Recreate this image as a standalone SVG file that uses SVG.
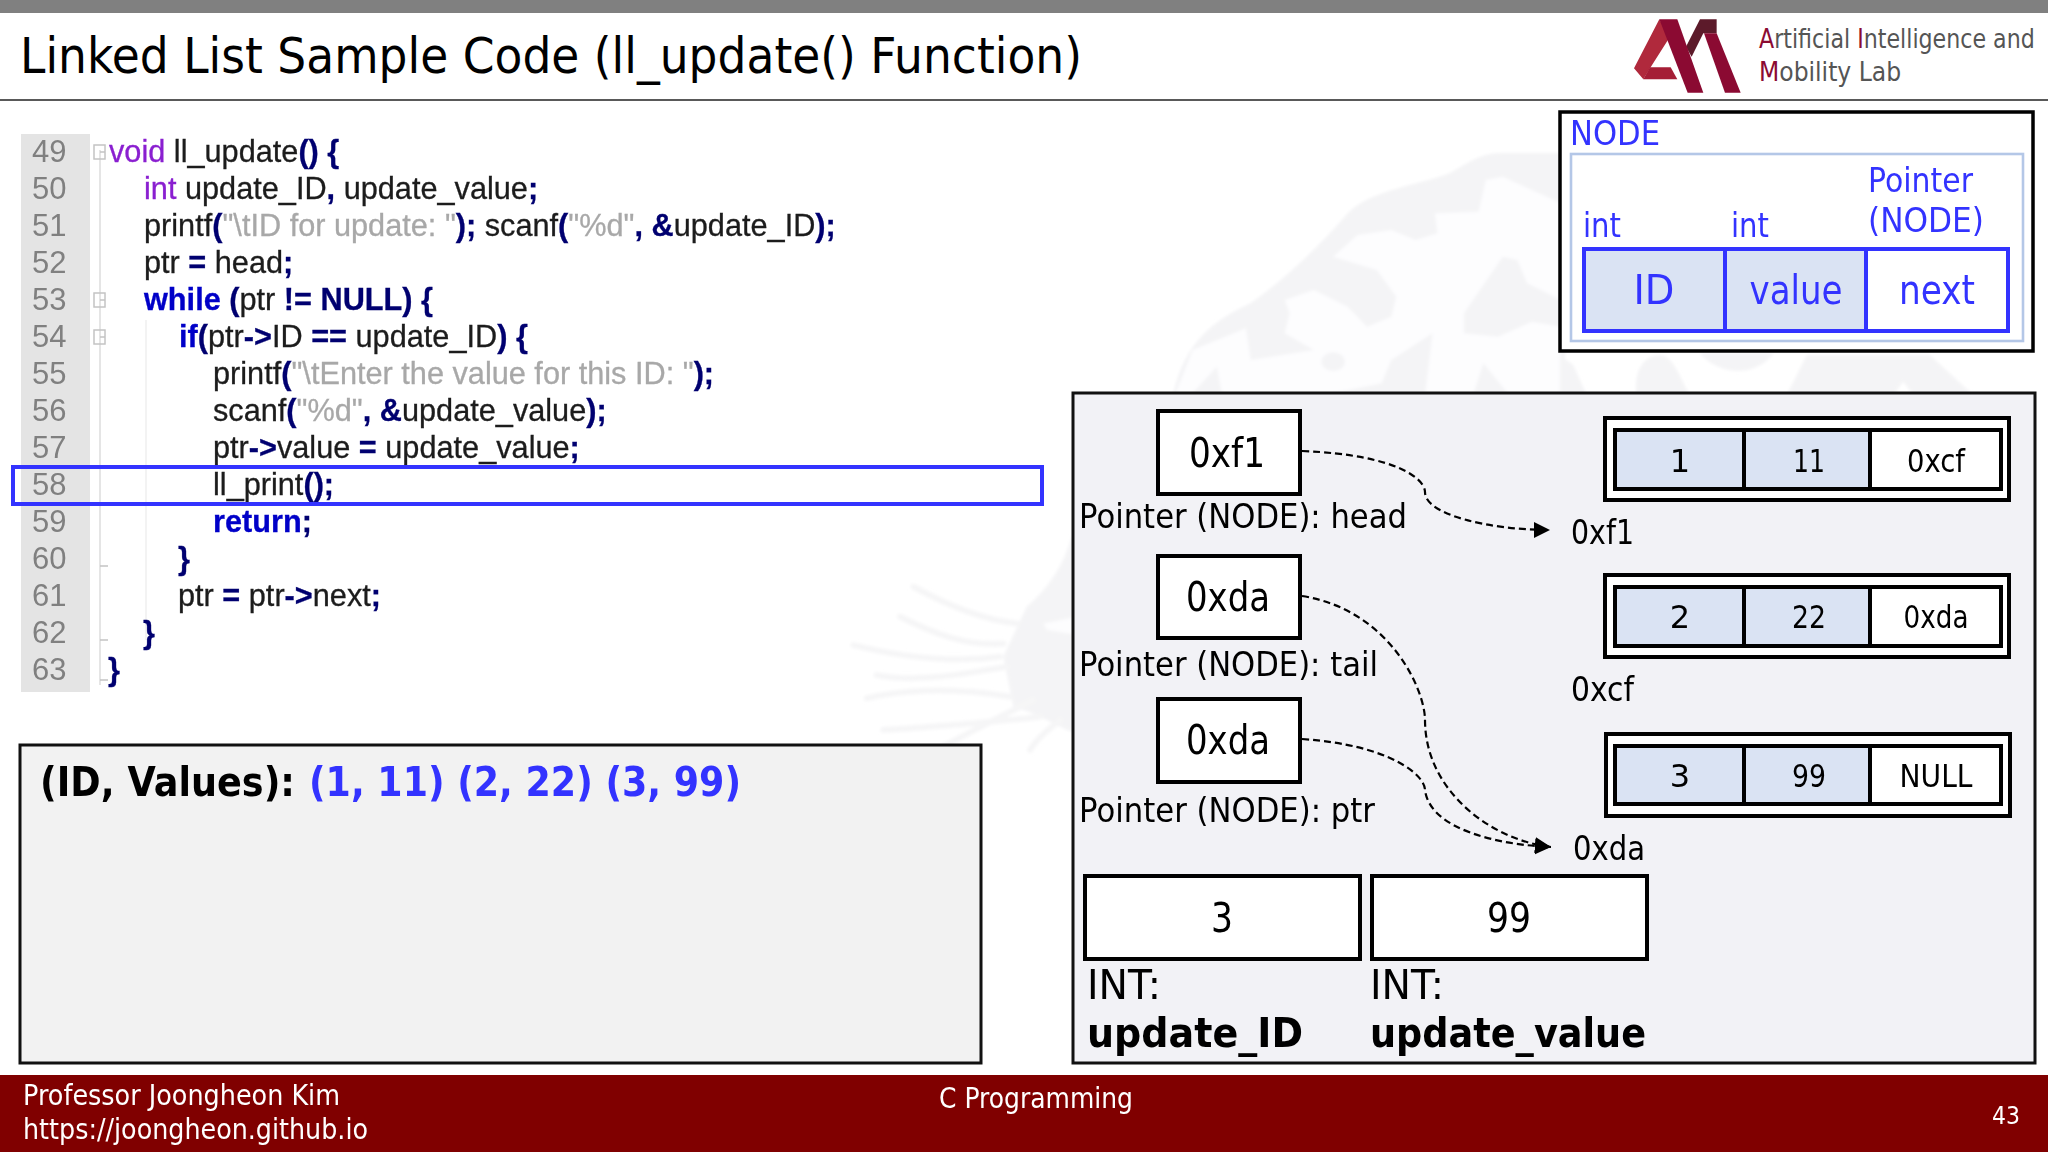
<svg xmlns="http://www.w3.org/2000/svg" width="2048" height="1152" viewBox="0 0 2048 1152">
<style>
text{font-family:"DejaVu Sans","Noto Sans",sans-serif;fill:#000}
.c{font-family:"Liberation Sans",Arial,sans-serif;font-size:30.7px;fill:#1c1c1c;stroke:#1c1c1c;stroke-width:.3}
.n{font-family:"Liberation Sans",Arial,sans-serif;font-size:31px;fill:#808080}
.k{fill:#0000c8;stroke:#0000c8;font-weight:bold}.p{fill:#8a1fd0;stroke:#8a1fd0}.s{fill:#a8a8a8;stroke:#a8a8a8}.o{fill:#000070;stroke:#000070;font-weight:bold}
.b{fill:#3333ff}.w{fill:#fff}.m{text-anchor:middle}
.box{fill:#fff;stroke:#000;stroke-width:4}
.panel{fill:#f2f2f6;stroke:#111;stroke-width:3}
.cell{fill:#dae3f3;stroke:#000;stroke-width:4}
.cw{fill:#fff;stroke:#000;stroke-width:4}
.bc{stroke:#3333ff;stroke-width:4}
.lab{font-size:34px}.val{font-size:32px}.big{font-size:40px}.addr{font-size:34px}
.dash{fill:none;stroke:#000;stroke-width:2.2;stroke-dasharray:7 4;marker-end:url(#ah)}
.wf{fill:#f4f4f6}.wh{fill:#fdfdfe}
.ws{fill:none;stroke:#f6f6f7;stroke-width:18;stroke-linecap:round}
.fold{fill:none;stroke:#c4c4c4;stroke-width:1.5}
.lt{font-size:27px;fill:#555}.lr{fill:#8b0a32}
</style>
<defs>
<marker id="ah" markerUnits="userSpaceOnUse" markerWidth="18" markerHeight="18" refX="16" refY="8" orient="auto"><path d="M0 0L16 8L0 16z" fill="#000"/></marker>
<filter id="soft" x="-5%" y="-5%" width="110%" height="110%"><feGaussianBlur stdDeviation="1.5"/></filter>
</defs>
<rect width="2048" height="1152" fill="#fff"/>
<g id="watermark" filter="url(#soft)">
<path class="wf" d="M1173 395C1185 340 1215 320 1251 303C1290 275 1320 245 1348 213C1370 190 1420 185 1450 173C1465 165 1480 153 1500 153L1565 153L1565 395Z"/>
<g transform="translate(800 100) scale(.4847 .3333)">
<path class="wh" d="M1100 470L1150 405L1220 390L1270 420L1315 400L1310 340L1400 335L1415 240L1450 230L1570 310L1570 600L1500 550L1480 480L1450 470L1370 640L1370 700L1440 710L1510 665L1570 680L1570 880L1460 880L1410 790L1390 880L1290 880L1305 700L1220 780L1200 850L1100 880L870 880L860 800L810 880L775 880L810 750L920 685L930 780L1060 750L1000 700L1010 640L1000 600L1060 570L1130 620L1170 680L1220 650L1230 590L1190 510Z"/>
<ellipse class="wf" cx="1100" cy="785" rx="24" ry="28"/>
</g>
<g transform="translate(800 500) scale(.3333)">
<path class="wf" d="M815 110C790 200 740 270 680 320L610 470L640 620L700 640L800 690L830 700L830 110Z"/>
<path class="wh" d="M730 370L830 350L830 405L740 390Z"/>
<path class="ws" d="M340 260C450 320 550 360 650 370M300 350C400 400 500 440 610 430M160 435C300 470 450 490 600 470M230 525C350 550 500 520 620 500M200 595C300 570 450 560 630 590M250 690C400 680 550 670 720 650M420 745C520 690 600 650 700 600M690 750C720 700 760 680 780 660"/>
</g>
<g transform="translate(1560 345) scale(.3333)">
<path class="wf" d="M0 30L40 60L80 150L0 150ZM230 150C220 80 250 30 300 30C340 30 360 100 390 150ZM420 25C480 95 590 95 640 25ZM680 150L740 30L1110 30L1240 150L1060 150L1030 110L1000 150Z"/>
</g>
</g>
<rect width="2048" height="13" fill="#808080"/>
<g id="title"><text x="20" y="73" font-size="50" textLength="1062" lengthAdjust="spacingAndGlyphs">Linked List Sample Code (ll_update() Function)</text>
<line x1="0" y1="100" x2="2048" y2="100" stroke="#222" stroke-width="1.6"/></g>
<g id="logo" transform="translate(1560 0) scale(.3333)">
<path d="M222 205L298 58L330 110L270 205L250 238z" fill="#b0293c"/>
<path d="M250 238L270 202L332 202L352 238z" fill="#a51e36"/>
<path d="M378 140L420 58L470 58L470 100L430 100L395 170z" fill="#5c1a2a"/>
<path d="M298 58L352 58L430 278L383 278z" fill="#8b0a32"/>
<path d="M432 100L470 100L542 278L495 278z" fill="#8b0a32"/>
</g>
<g id="logo-text">
<text class="lt" transform="translate(1759 48) scale(.821 1)"><tspan class="lr">A</tspan>rtificial <tspan class="lr">I</tspan>ntelligence and</text>
<text class="lt" transform="translate(1759 81) scale(.871 1)"><tspan class="lr">M</tspan>obility Lab</text>
</g>
<g id="code">
<rect x="21" y="134" width="69" height="558" fill="#e4e4e4"/>
<line x1="100" y1="150" x2="100" y2="685" stroke="#dcdcdc" stroke-width="1.5"/>
<line x1="146" y1="320" x2="146" y2="640" stroke="#efefef" stroke-width="1.5"/>
<rect class="fold" x="94" y="145" width="11" height="14"/><rect class="fold" x="94" y="293" width="11" height="14"/><rect class="fold" x="94" y="330" width="11" height="14"/>
<path class="fold" d="M100 152h5M100 300h5M100 337h5M100 566h8M100 640h8M100 680h8"/>
<text class="n" x="32" y="162">49</text><text class="n" x="32" y="199">50</text><text class="n" x="32" y="236">51</text><text class="n" x="32" y="273">52</text><text class="n" x="32" y="310">53</text><text class="n" x="32" y="347">54</text><text class="n" x="32" y="384">55</text><text class="n" x="32" y="421">56</text><text class="n" x="32" y="458">57</text><text class="n" x="32" y="495">58</text><text class="n" x="32" y="532">59</text><text class="n" x="32" y="569">60</text><text class="n" x="32" y="606">61</text><text class="n" x="32" y="643">62</text><text class="n" x="32" y="680">63</text>
<text class="c" x="109" y="162"><tspan class="p">void</tspan> ll_update<tspan class="o">() {</tspan></text>
<text class="c" x="144" y="199"><tspan class="p">int</tspan> update_ID<tspan class="o">,</tspan> update_value<tspan class="o">;</tspan></text>
<text class="c" x="144" y="236">printf<tspan class="o">(</tspan><tspan class="s">"\tID for update: "</tspan><tspan class="o">);</tspan> scanf<tspan class="o">(</tspan><tspan class="s">"%d"</tspan><tspan class="o">, &amp;</tspan>update_ID<tspan class="o">);</tspan></text>
<text class="c" x="144" y="273">ptr <tspan class="o">=</tspan> head<tspan class="o">;</tspan></text>
<text class="c" x="144" y="310"><tspan class="k">while</tspan> <tspan class="o">(</tspan>ptr <tspan class="o">!=</tspan> <tspan class="o">NULL) {</tspan></text>
<text class="c" x="179" y="347"><tspan class="k">if</tspan><tspan class="o">(</tspan>ptr<tspan class="o">-&gt;</tspan>ID <tspan class="o">==</tspan> update_ID<tspan class="o">) {</tspan></text>
<text class="c" x="213" y="384">printf<tspan class="o">(</tspan><tspan class="s">"\tEnter the value for this ID: "</tspan><tspan class="o">);</tspan></text>
<text class="c" x="213" y="421">scanf<tspan class="o">(</tspan><tspan class="s">"%d"</tspan><tspan class="o">, &amp;</tspan>update_value<tspan class="o">);</tspan></text>
<text class="c" x="213" y="458">ptr<tspan class="o">-&gt;</tspan>value <tspan class="o">=</tspan> update_value<tspan class="o">;</tspan></text>
<text class="c" x="213" y="495">ll_print<tspan class="o">();</tspan></text>
<text class="c" x="213" y="532"><tspan class="k">return</tspan><tspan class="o">;</tspan></text>
<text class="c" x="178" y="569"><tspan class="o">}</tspan></text>
<text class="c" x="178" y="606">ptr <tspan class="o">=</tspan> ptr<tspan class="o">-&gt;</tspan>next<tspan class="o">;</tspan></text>
<text class="c" x="143" y="643"><tspan class="o">}</tspan></text>
<text class="c" x="108" y="680"><tspan class="o">}</tspan></text>
<rect x="13" y="467" width="1029" height="37" fill="none" stroke="#3333ff" stroke-width="4"/>
</g>
<g id="node-def">
<rect x="1560" y="112" width="473" height="239" fill="#fff" stroke="#000" stroke-width="3.5"/>
<rect x="1571" y="154" width="452" height="187" fill="none" stroke="#b4c7e7" stroke-width="2.6"/>
<text class="b" x="1570" y="145" font-size="34" textLength="90" lengthAdjust="spacingAndGlyphs">NODE</text>
<text class="b" x="1583" y="237" font-size="34" textLength="38" lengthAdjust="spacingAndGlyphs">int</text>
<text class="b" x="1731" y="237" font-size="34" textLength="38" lengthAdjust="spacingAndGlyphs">int</text>
<text class="b" x="1868" y="192" font-size="34" textLength="105" lengthAdjust="spacingAndGlyphs">Pointer</text>
<text class="b" x="1868" y="232" font-size="34" textLength="116" lengthAdjust="spacingAndGlyphs">(NODE)</text>
<rect x="1584" y="249" width="141" height="82" fill="#dae3f3" class="bc"/><rect x="1725" y="249" width="141" height="82" fill="#dae3f3" class="bc"/><rect x="1866" y="249" width="142" height="82" fill="#fff" class="bc"/>
<text class="b m" x="1654" y="304" font-size="40" textLength="41" lengthAdjust="spacingAndGlyphs">ID</text><text class="b m" x="1796" y="304" font-size="40" textLength="93" lengthAdjust="spacingAndGlyphs">value</text><text class="b m" x="1937" y="304" font-size="40" textLength="76" lengthAdjust="spacingAndGlyphs">next</text>
</g>
<g id="memory-panel"><rect class="panel" x="1073" y="393" width="962" height="670"/></g>
<g id="ptr-head"><rect class="box" x="1158" y="411" width="142" height="83"/><text class="big m" x="1227" y="467" textLength="76" lengthAdjust="spacingAndGlyphs">0xf1</text><text class="lab" x="1079" y="528" textLength="328" lengthAdjust="spacingAndGlyphs">Pointer (NODE): head</text></g>
<g id="ptr-tail"><rect class="box" x="1158" y="556" width="142" height="82"/><text class="big m" x="1228" y="611" textLength="84" lengthAdjust="spacingAndGlyphs">0xda</text><text class="lab" x="1079" y="676" textLength="299" lengthAdjust="spacingAndGlyphs">Pointer (NODE): tail</text></g>
<g id="ptr-ptr"><rect class="box" x="1158" y="699" width="142" height="83"/><text class="big m" x="1228" y="754" textLength="84" lengthAdjust="spacingAndGlyphs">0xda</text><text class="lab" x="1079" y="822" textLength="296" lengthAdjust="spacingAndGlyphs">Pointer (NODE): ptr</text></g>
<g id="node-1"><rect class="box" x="1605" y="418" width="404" height="82"/><rect class="cell" x="1615" y="430" width="129" height="59"/><rect class="cell" x="1744" y="430" width="126" height="59"/><rect class="cw" x="1870" y="430" width="131" height="59"/><text class="val m" x="1680" y="472">1</text><text class="val m" x="1809" y="472" textLength="32" lengthAdjust="spacingAndGlyphs">11</text><text class="val m" x="1936" y="472" textLength="58" lengthAdjust="spacingAndGlyphs">0xcf</text><text class="addr" x="1571" y="544" textLength="63" lengthAdjust="spacingAndGlyphs">0xf1</text></g>
<g id="node-2"><rect class="box" x="1605" y="575" width="404" height="82"/><rect class="cell" x="1615" y="587" width="129" height="59"/><rect class="cell" x="1744" y="587" width="126" height="59"/><rect class="cw" x="1870" y="587" width="131" height="59"/><text class="val m" x="1680" y="628">2</text><text class="val m" x="1809" y="628" textLength="34" lengthAdjust="spacingAndGlyphs">22</text><text class="val m" x="1936" y="628" textLength="65" lengthAdjust="spacingAndGlyphs">0xda</text><text class="addr" x="1571" y="701" textLength="63" lengthAdjust="spacingAndGlyphs">0xcf</text></g>
<g id="node-3"><rect class="box" x="1606" y="734" width="404" height="82"/><rect class="cell" x="1615" y="746" width="129" height="58"/><rect class="cell" x="1744" y="746" width="126" height="58"/><rect class="cw" x="1870" y="746" width="131" height="58"/><text class="val m" x="1680" y="787">3</text><text class="val m" x="1809" y="787" textLength="34" lengthAdjust="spacingAndGlyphs">99</text><text class="val m" x="1936" y="787" textLength="73" lengthAdjust="spacingAndGlyphs">NULL</text><text class="addr" x="1573" y="860" textLength="72" lengthAdjust="spacingAndGlyphs">0xda</text></g>
<g id="var-id"><rect class="box" x="1085" y="876" width="275" height="83"/><text class="m" x="1222" y="932" font-size="41" textLength="22" lengthAdjust="spacingAndGlyphs">3</text><text class="big" x="1087" y="999" textLength="74" lengthAdjust="spacingAndGlyphs">INT:</text><text class="big" x="1087" y="1047" font-weight="bold" textLength="216" lengthAdjust="spacingAndGlyphs">update_ID</text></g>
<g id="var-value"><rect class="box" x="1372" y="876" width="275" height="83"/><text class="m" x="1509" y="932" font-size="41" textLength="44" lengthAdjust="spacingAndGlyphs">99</text><text class="big" x="1370" y="999" textLength="74" lengthAdjust="spacingAndGlyphs">INT:</text><text class="big" x="1370" y="1047" font-weight="bold" textLength="276" lengthAdjust="spacingAndGlyphs">update_value</text></g>
<g id="connectors">
<path class="dash" d="M1302 451C1400 455 1425 480 1425 492C1425 515 1490 530 1550 530"/>
<path class="dash" d="M1302 596C1390 610 1425 690 1425 720C1425 790 1490 840 1551 847"/>
<path class="dash" d="M1302 739C1390 745 1425 775 1425 790C1430 830 1500 845 1551 847"/>
</g>
<g id="output"><rect x="20" y="745" width="961" height="318" fill="#f2f2f2" stroke="#111" stroke-width="3"/>
<text x="40" y="796" font-size="41" font-weight="bold" textLength="255" lengthAdjust="spacingAndGlyphs">(ID, Values):</text>
<text class="b" x="309" y="796" font-size="41" font-weight="bold" textLength="432" lengthAdjust="spacingAndGlyphs">(1, 11) (2, 22) (3, 99)</text></g>
<g id="footer"><rect y="1075" width="2048" height="77" fill="#800000"/>
<text class="w" x="23" y="1105" font-size="29" textLength="317" lengthAdjust="spacingAndGlyphs">Professor Joongheon Kim</text>
<text class="w" x="23" y="1139" font-size="29" textLength="345" lengthAdjust="spacingAndGlyphs">https://joongheon.github.io</text>
<text class="w" x="939" y="1108" font-size="29" textLength="194" lengthAdjust="spacingAndGlyphs">C Programming</text>
<text class="w" x="1992" y="1124" font-size="25" textLength="28" lengthAdjust="spacingAndGlyphs">43</text></g>
</svg>
